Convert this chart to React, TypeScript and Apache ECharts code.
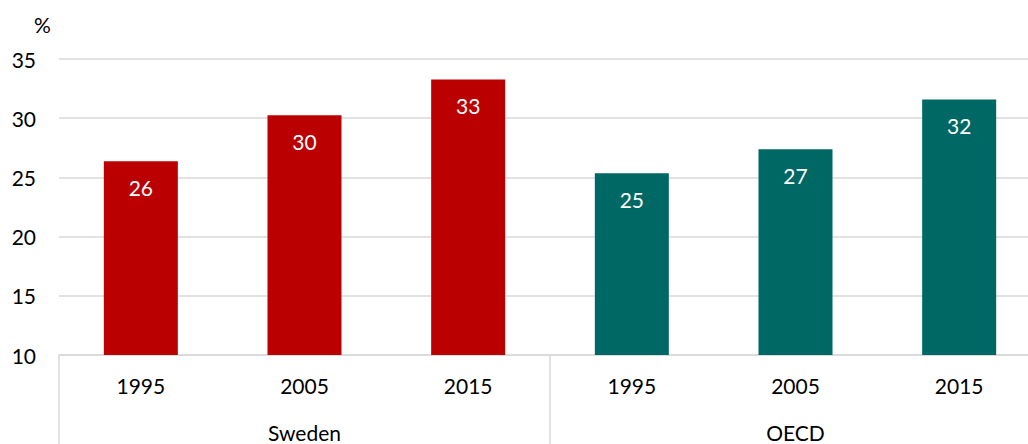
import React, { useEffect, useRef } from "react";
import * as echarts from "echarts";

const years = ["1995", "2005", "2015"];
const groups = ["Sweden", "OECD"];
const swedenValues = [26.36, 30.24, 33.27];
const oecdValues = [25.35, 27.37, 31.58];
const yTicks = { min: 10, max: 35, interval: 5 };

const RED = "#BA0000";
const TEAL = "#006864";
const GRID = "#d9d9d9";
const FONT = "Lato, 'Noto Sans', sans-serif";
const FS = 21;

export default function App() {
  const ref = useRef<HTMLDivElement>(null);
  useEffect(() => {
    if (!ref.current) return;
    const chart = echarts.init(ref.current, null, { renderer: "svg" });
    const categories = [...years, ...years];
    const data = [
      ...swedenValues.map((v) => ({ value: v, itemStyle: { color: RED } })),
      ...oecdValues.map((v) => ({ value: v, itemStyle: { color: TEAL } })),
    ];
    chart.setOption({
      animation: false,
      textStyle: { fontFamily: FONT },
      grid: { left: 59, top: 59, bottom: 89, right: 0, containLabel: false },
      xAxis: [
        {
          type: "category",
          data: categories,
          position: "bottom",
          axisLine: { show: true, lineStyle: { color: GRID, width: 1.5 } },
          axisTick: { show: false },
          axisLabel: { color: "#000", fontSize: FS, margin: 20, fontFamily: FONT },
        },
        {
          type: "category",
          data: groups,
          position: "bottom",
          axisLine: { show: false },
          axisTick: { show: true, length: 90, lineStyle: { color: GRID, width: 1.5 } },
          axisLabel: { color: "#000", fontSize: FS, margin: 67, fontFamily: FONT },
        },
      ],
      yAxis: {
        type: "value",
        min: yTicks.min,
        max: yTicks.max,
        interval: yTicks.interval,
        axisLine: { show: false },
        axisTick: { show: false },
        axisLabel: { color: "#000", fontSize: FS, margin: 23, fontFamily: FONT },
        splitLine: { lineStyle: { color: GRID, width: 1.5 } },
      },
      graphic: [
        {
          type: "text",
          left: 34,
          top: 14,
          style: { text: "%", fontSize: FS, fill: "#000", fontFamily: FONT },
        },
      ],
      series: [
        {
          type: "bar",
          xAxisIndex: 0,
          data,
          barWidth: 74,
          label: {
            show: true,
            position: "insideTop",
            distance: 16,
            color: "#fff",
            fontSize: FS,
            fontFamily: FONT,
            formatter: (p: any) => String(Math.round(p.value)),
          },
        },
      ],
    });
    return () => chart.dispose();
  }, []);
  return (
    <div
      style={{
        position: "fixed",
        left: 0,
        top: 0,
        width: 1028,
        height: 444,
        overflow: "hidden",
        background: "#fff",
      }}
    >
      <div ref={ref} style={{ width: 1041, height: 444 }} />
    </div>
  );
}
